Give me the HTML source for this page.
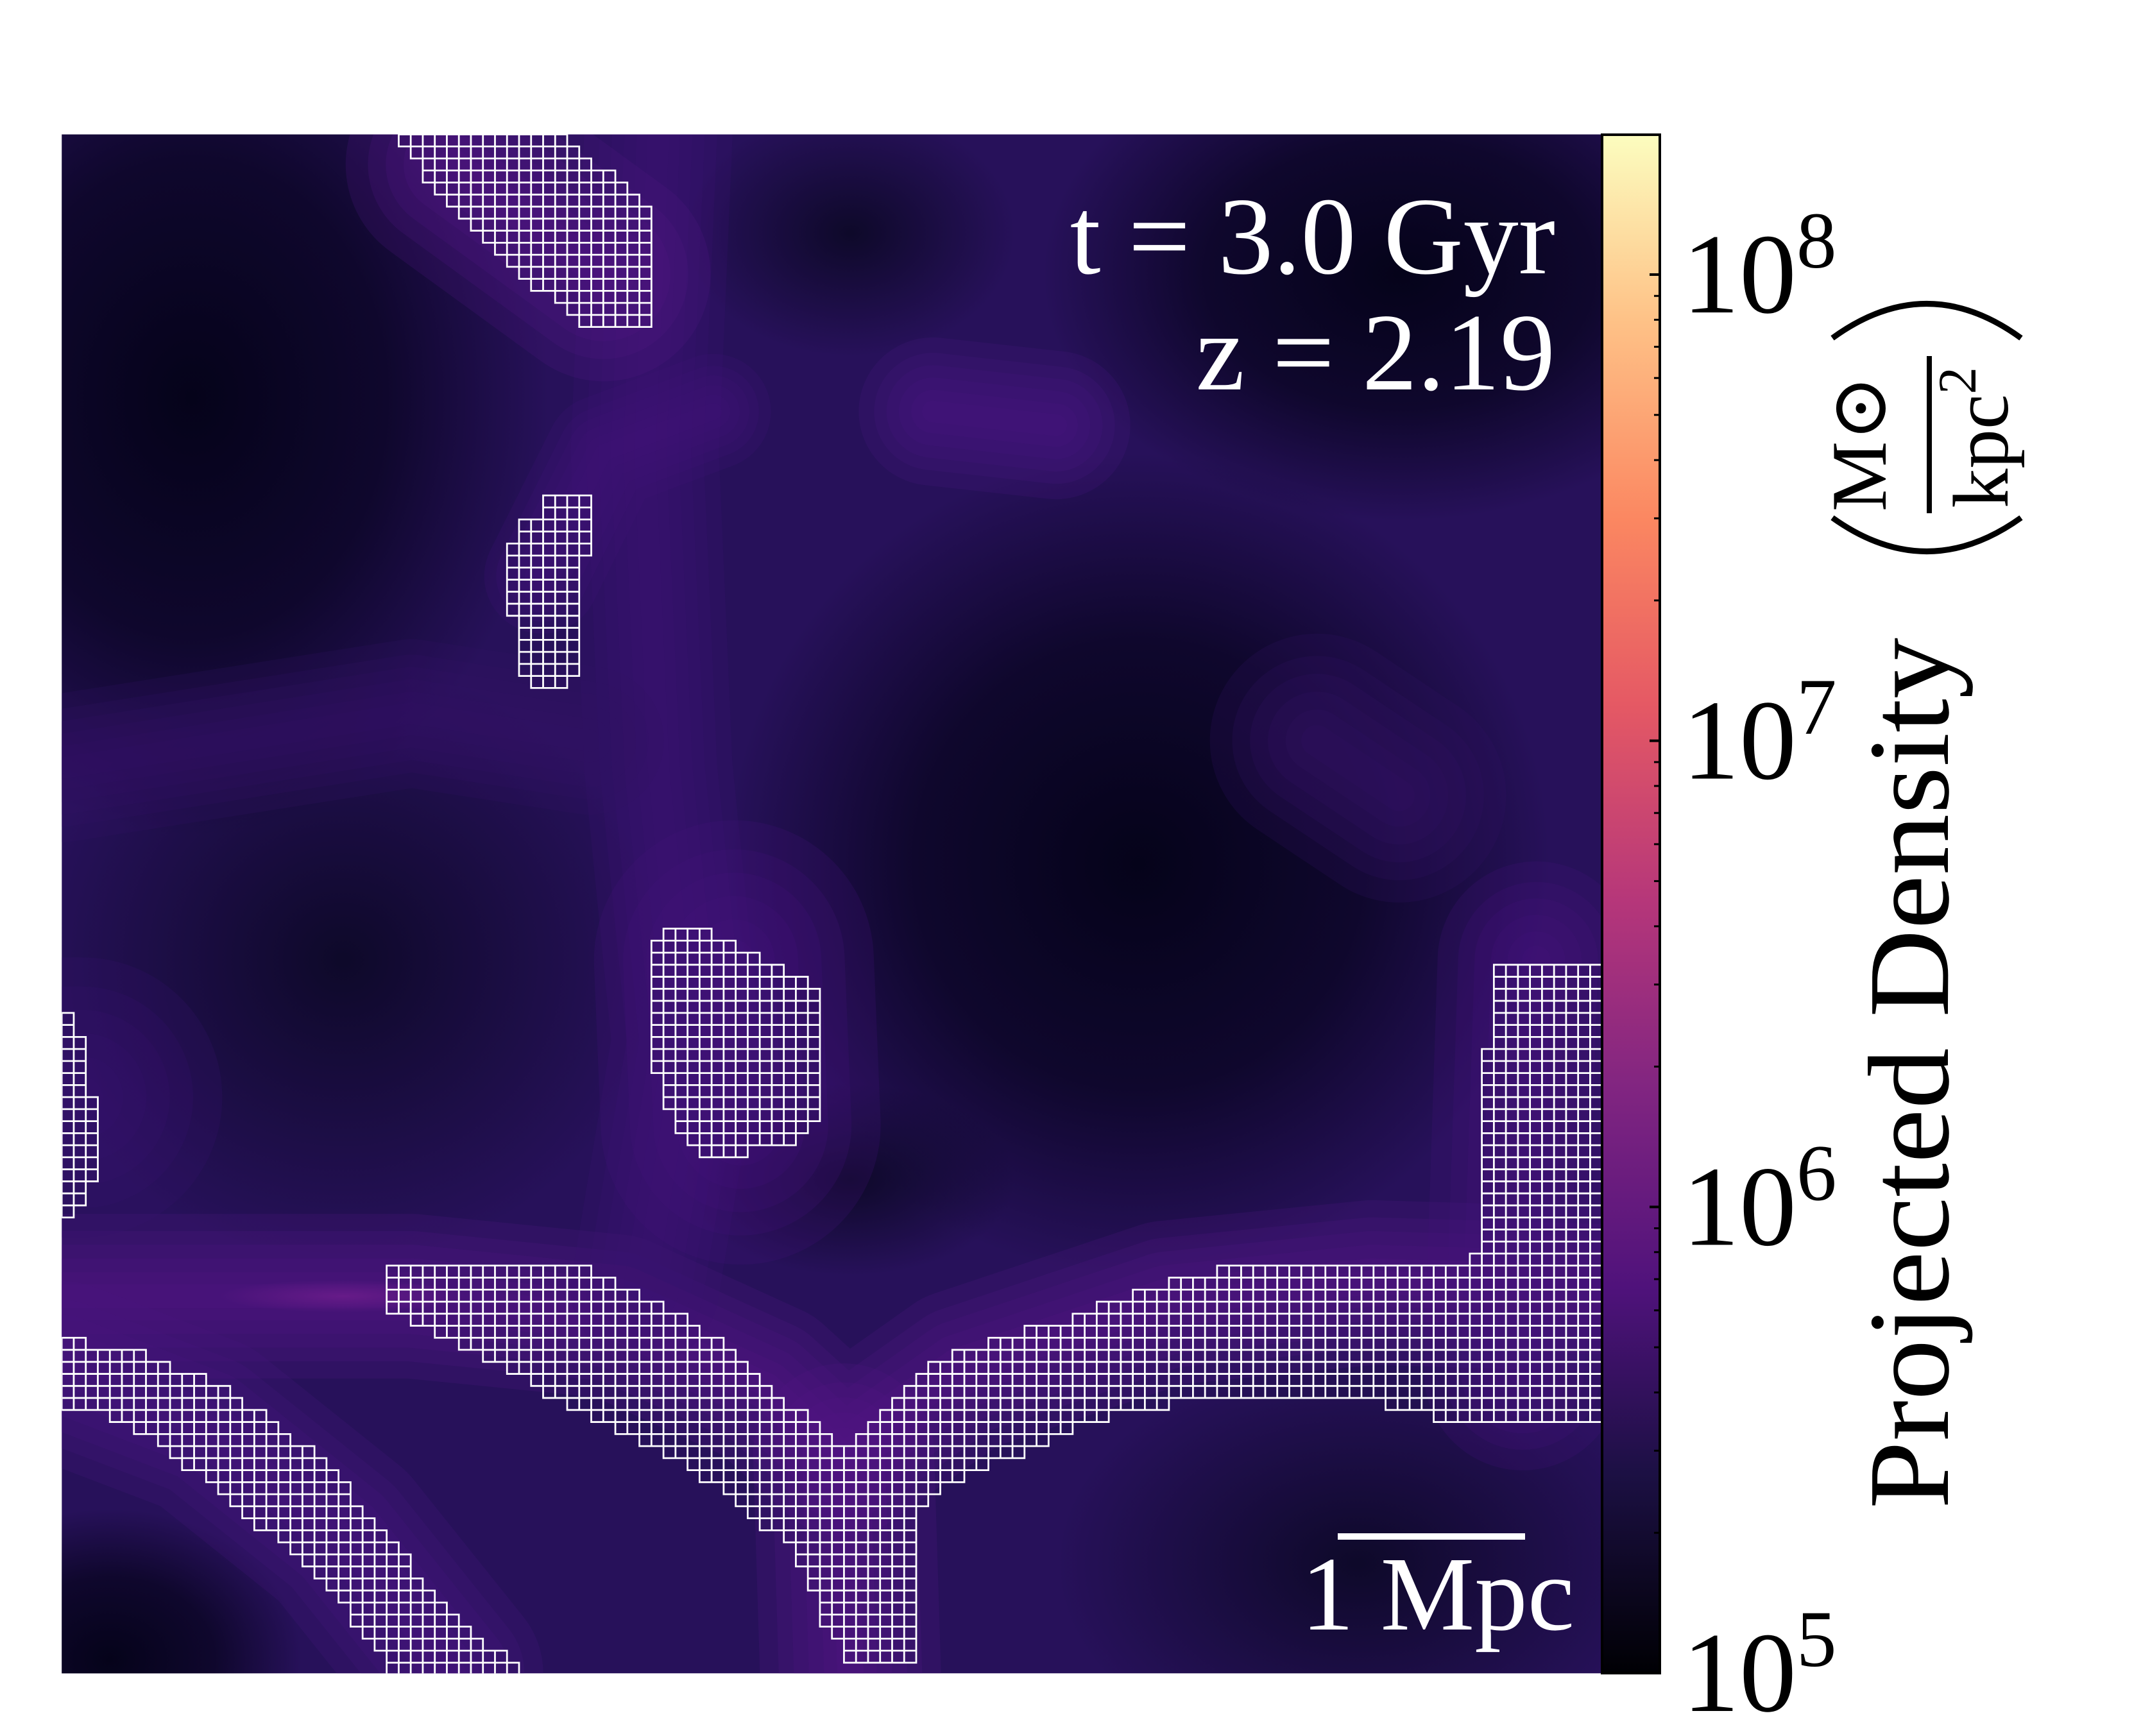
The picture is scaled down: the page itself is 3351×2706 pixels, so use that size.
<!DOCTYPE html>
<html><head><meta charset="utf-8"><style>
html,body{margin:0;padding:0;background:#fff;width:3351px;height:2706px;overflow:hidden}
svg{display:block}
text{font-family:"Liberation Serif","DejaVu Serif",serif}
</style></head><body>
<svg id="fig" width="3351" height="2706" viewBox="0 0 3351 2706" xmlns="http://www.w3.org/2000/svg">
<defs>
  <linearGradient id="magma" x1="0" y1="1" x2="0" y2="0">
    <stop offset="0" stop-color="#000004"/><stop offset="0.13" stop-color="#1c1044"/>
    <stop offset="0.25" stop-color="#4f127b"/><stop offset="0.38" stop-color="#812581"/>
    <stop offset="0.5" stop-color="#b5367a"/><stop offset="0.63" stop-color="#e55964"/>
    <stop offset="0.75" stop-color="#fb8761"/><stop offset="0.88" stop-color="#fec287"/>
    <stop offset="1" stop-color="#fcfdbf"/>
  </linearGradient>
  <radialGradient id="voidDark"><stop offset="0" stop-color="#05031a" stop-opacity="1"/><stop offset="0.55" stop-color="#05031a" stop-opacity="0.7"/><stop offset="1" stop-color="#05031a" stop-opacity="0"/></radialGradient>
  <radialGradient id="voidMid"><stop offset="0" stop-color="#0b0824" stop-opacity="0.9"/><stop offset="1" stop-color="#0b0824" stop-opacity="0"/></radialGradient>
  <radialGradient id="glow"><stop offset="0" stop-color="#6a1c8a" stop-opacity="0.9"/><stop offset="1" stop-color="#6a1c8a" stop-opacity="0"/></radialGradient>
  <clipPath id="plotclip"><rect x="45" y="98" width="1123" height="1122"/></clipPath>
</defs>
<g id="plot" transform="scale(2.138)">
  <g clip-path="url(#plotclip)">
    <rect x="45" y="98" width="1123" height="1122" fill="#27115a"/>
    <g>
      <ellipse cx="140" cy="290" rx="260" ry="320" fill="url(#voidDark)"/>
      <ellipse cx="250" cy="700" rx="230" ry="220" fill="url(#voidMid)"/>
      <ellipse cx="830" cy="630" rx="300" ry="300" fill="url(#voidDark)"/>
      <ellipse cx="1020" cy="200" rx="260" ry="180" fill="url(#voidDark)"/>
      <ellipse cx="620" cy="170" rx="120" ry="90" fill="url(#voidMid)"/>
      <ellipse cx="990" cy="1140" rx="220" ry="150" fill="url(#voidMid)"/>
      <ellipse cx="80" cy="1210" rx="140" ry="110" fill="url(#voidDark)"/>
      <ellipse cx="620" cy="860" rx="120" ry="70" fill="url(#voidMid)"/>
    </g>
    <g id="filaments" fill="none" stroke-linecap="round" stroke-linejoin="round"></g>
    <ellipse cx="250" cy="945" rx="90" ry="12" fill="url(#glow)"/>
    <path id="cells" d="" fill="none" stroke="#ffffff" stroke-width="1.3"/>
  </g>
</g>
<g id="annot">
  <text x="2424" y="426" font-size="172" fill="#fff" text-anchor="end">t = 3.0 Gyr</text>
  <text x="2424" y="607" font-size="172" fill="#fff" text-anchor="end">z = 2.19</text>
  <rect x="2085" y="2390" width="292" height="10" fill="#fff"/>
  <text x="2454" y="2540" font-size="165" fill="#fff" text-anchor="end">1 Mpc</text>
</g>
<g id="cbar">
  <rect x="2497" y="210" width="90" height="2398" fill="url(#magma)" stroke="#000" stroke-width="4"/>
  <g id="cticks"></g>
  <text transform="translate(3036,1673) rotate(-90)" font-size="180" text-anchor="middle" textLength="1358" lengthAdjust="spacingAndGlyphs">Projected Density</text>
  <g>
    <text transform="translate(2939,691) rotate(-90)" font-size="123" text-anchor="middle">M⊙</text>
    <rect x="3003" y="555" width="8" height="245" fill="#000"/>
    <text transform="translate(3129,682) rotate(-90)" font-size="123" text-anchor="middle">kpc<tspan font-size="85" dy="-50">2</tspan></text>
    <path d="M2856 527 Q3003 420 3150 527" fill="none" stroke="#000" stroke-width="9"/>
    <path d="M2856 807 Q3003 912 3150 807" fill="none" stroke="#000" stroke-width="9"/>
  </g>
</g>
</svg>
<script>
const tickExponents = [5, 6, 7, 8];
const minorMultipliers = [2, 3, 4, 5, 6, 7, 8, 9];
const cbMinExp = 5, cbMaxExp = 8.3;
const regionTop = [[290,98],[405,98],[475,150],[475,238],[430,238],[380,200],[335,160],[300,115]];
const regionSmall = [[395,360],[432,360],[432,405],[420,410],[420,485],[412,500],[387,500],[378,490],[370,405],[380,380],[395,375]];
const regionMid = [[485,676],[510,676],[540,690],[575,712],[598,720],[598,810],[580,835],[510,843],[492,825],[483,790],[473,760],[473,690]];
const regionLeft = [[40,728],[55,740],[63,790],[70,800],[70,850],[63,870],[55,885],[40,885]];
const regionBand = [[40,975],[110,990],[160,1010],[230,1060],[290,1130],[330,1180],[390,1225],[290,1225],[250,1170],[200,1120],[140,1070],[90,1035],[40,1025]];
const regionV = [[280,925],[420,922],[470,945],[520,975],[570,1020],[615,1058],[650,1020],[690,990],[770,965],[840,940],[910,920],[1075,920],[1080,895],[1087,705],[1170,705],[1170,1035],[1060,1035],[1000,1020],[870,1020],[810,1030],[740,1060],[690,1080],[668,1100],[668,1212],[622,1212],[600,1180],[580,1130],[520,1080],[460,1045],[390,1010],[330,975],[282,955]];
const regions = [regionTop, regionSmall, regionMid, regionLeft, regionBand, regionV];
const filamentPaths = [
 ["M45 945 L300 945 L450 960 L560 1010 L615 1060 L700 1000 L850 950 L1000 935 L1168 940","#521786",50],
 ["M45 1000 L150 1040 L250 1120 L330 1220","#47157e",55],
 ["M615 1060 L620 1220","#521786",55],
 ["M480 98 L470 330 L480 560 L500 760 L470 940","#3d1274",45],
 ["M330 120 L440 200","#521786",65],
 ["M395 420 L440 330 L520 300","#421378",35],
 ["M680 300 L770 310","#4a157e",45],
 ["M1120 700 L1110 1000","#45147c",60],
 ["M535 700 L540 820","#441379",85],
 ["M45 560 L300 520 L430 540","#311064",45],
 ["M45 800 L60 800","#37106e",85],
 ["M960 540 L1020 580","#311064",65]
];

const NS='http://www.w3.org/2000/svg';
const fg=document.getElementById('filaments');
const layers=[2.4,1.9,1.5,1.1,0.7,0.35];
for(const [d,c,w] of filamentPaths){
  for(const k of layers){
    const p=document.createElementNS(NS,'path');
    p.setAttribute('d',d);p.setAttribute('stroke',c);
    p.setAttribute('stroke-width',(w*k).toFixed(1));
    p.setAttribute('stroke-opacity','0.22');
    
    
    fg.appendChild(p);
  }
}

function inside(p, poly){let c=false;for(let i=0,j=poly.length-1;i<poly.length;j=i++){const [xi,yi]=poly[i],[xj,yj]=poly[j];if(((yi>p[1])!==(yj>p[1]))&&(p[0]<(xj-xi)*(p[1]-yi)/(yj-yi)+xi))c=!c;}return c;}
const x0=45,y0=98,pitch=1123/128;
let d='';
for(let i=0;i<128;i++)for(let j=0;j<128;j++){
  const cx=x0+(i+0.5)*pitch, cy=y0+(j+0.5)*pitch;
  if(regions.some(r=>inside([cx,cy],r))){
    const x=x0+i*pitch,y=y0+j*pitch;
    d+=`M${x.toFixed(2)} ${y.toFixed(2)}h${pitch.toFixed(2)}v${pitch.toFixed(2)}h-${pitch.toFixed(2)}z`;
  }
}
document.getElementById('cells').setAttribute('d',d);

const cbTop=210,cbBot=2608,cbRight=2587;
function yOf(e){return cbBot-(e-cbMinExp)/(cbMaxExp-cbMinExp)*(cbBot-cbTop);}
const g=document.getElementById('cticks');
for(let e=5;e<=8;e++){
  for(const m of minorMultipliers){
    const ex=e+Math.log10(m); if(ex>cbMaxExp) continue;
    const t=document.createElementNS(NS,'line');
    t.setAttribute('x1',cbRight-9);t.setAttribute('x2',cbRight);
    t.setAttribute('y1',yOf(ex));t.setAttribute('y2',yOf(ex));
    t.setAttribute('stroke','#000');t.setAttribute('stroke-width','3');
    
    
    g.appendChild(t);
  }
}
for(const e of tickExponents){
  const y=yOf(e);
  const t=document.createElementNS(NS,'line');
  t.setAttribute('x1',cbRight-16);t.setAttribute('x2',cbRight);
  t.setAttribute('y1',y);t.setAttribute('y2',y);
  t.setAttribute('stroke','#000');t.setAttribute('stroke-width','4');
  
  
  g.appendChild(t);
  const tx=document.createElementNS(NS,'text');
  tx.setAttribute('x',2622);tx.setAttribute('y',y+59);
  tx.setAttribute('font-size','178');
  tx.innerHTML='10<tspan font-size="125" dy="-70">'+e+'</tspan>';
  
  
  g.appendChild(tx);
}
</script>
</body></html>
